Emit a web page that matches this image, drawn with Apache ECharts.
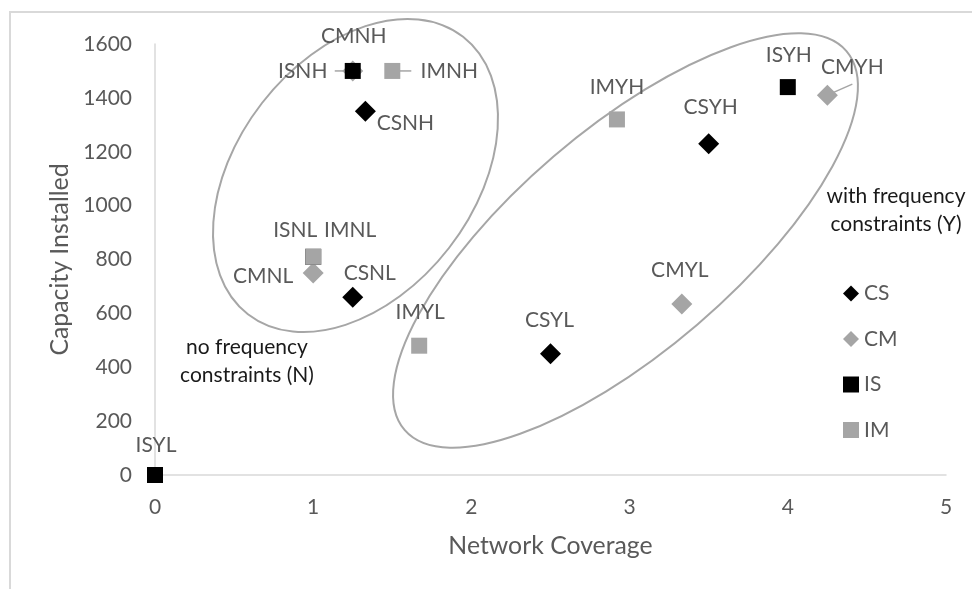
<!DOCTYPE html>
<html>
<head>
<meta charset="utf-8">
<script src="https://cdn.jsdelivr.net/npm/echarts@6/dist/echarts.min.js"></script>
<style>
  html, body { margin: 0; padding: 0; background: #fff; }
  #main { width: 972px; height: 589px; }
</style>
</head>
<body>
<div id="main"></div>
<script>
// point names and values per series
const csNames = ['CSNH', 'CSNL', 'CSYL', 'CSYH'];
const csX = [1.33, 1.25, 2.5, 3.5];
const csY = [1350, 660, 450, 1230];

const cmNames = ['CMNH', 'CMNL', 'CMYL', 'CMYH'];
const cmX = [1.25, 1, 3.33, 4.25];
const cmY = [1500, 750, 635, 1410];

const isNames = ['ISNH', 'ISNL', 'ISYL', 'ISYH'];
const isX = [1.25, 1, 0, 4];
const isY = [1500, 810, 0, 1440];

const imNames = ['IMNH', 'IMNL', 'IMYL', 'IMYH'];
const imX = [1.5, 1, 1.67, 2.92];
const imY = [1500, 810, 480, 1320];

const xTicks = [0, 1, 2, 3, 4, 5];
const yTicks = [0, 200, 400, 600, 800, 1000, 1200, 1400, 1600];

// label centre offsets from the marker, in pixels
const labelOffsets = {
  CSNH: [40, 12], CSNL: [17, -24], CSYL: [-1, -34], CSYH: [2, -36],
  CMNH: [1, -35], CMNL: [-50, 3], CMYL: [-2, -34], CMYH: [25, -28],
  ISNH: [-50, 0], ISNL: [-18, -27], ISYL: [1, -30], ISYH: [1, -32],
  IMNH: [57, 0], IMNL: [37, -27], IMYL: [1, -33], IMYH: [0, -32]
};
// leader line end, relative to the marker centre
const leaders = { ISNH: [-18, 0], IMNH: [19, 0], CMYH: [25, -11] };

const FONT = 'Lato';
const TXT = '#595959';
const GRAY = '#a5a5a5';

function points(names, xs, ys) {
  return names.map(function (n, i) {
    return { name: n, value: [xs[i], ys[i]] };
  });
}

function scatter(name, names, xs, ys, symbol, size, color) {
  return {
    name: name,
    type: 'scatter',
    symbol: symbol,
    symbolSize: size,
    itemStyle: { color: color, opacity: 1 },
    data: points(names, xs, ys),
    label: {
      show: true,
      position: 'inside',
      formatter: '{b}',
      color: TXT,
      fontFamily: FONT,
      fontSize: 21
    },
    emphasis: { disabled: true }
  };
}

// collect the points that carry a leader line
const allNames = csNames.concat(cmNames, isNames, imNames);
const allX = csX.concat(cmX, isX, imX);
const allY = csY.concat(cmY, isY, imY);
const leaderData = [];
allNames.forEach(function (n, i) {
  if (leaders[n]) leaderData.push({ name: n, value: [allX[i], allY[i]] });
});

const chart = echarts.init(document.getElementById('main'));

const series = [
  {
    name: 'leaders',
    type: 'custom',
    silent: true,
    data: leaderData,
    renderItem: function (params, api) {
      const p = api.coord([api.value(0), api.value(1)]);
      const d = leaders[leaderData[params.dataIndex].name];
      return {
        type: 'line',
        shape: { x1: p[0], y1: p[1], x2: p[0] + d[0], y2: p[1] + d[1] },
        style: { stroke: GRAY, lineWidth: 1.5 }
      };
    }
  },
  scatter('CS', csNames, csX, csY, 'diamond', 21, '#000000'),
  scatter('CM', cmNames, cmX, cmY, 'diamond', 21, GRAY),
  scatter('IS', isNames, isX, isY, 'rect', 16, '#000000'),
  scatter('IM', imNames, imX, imY, 'rect', 16, GRAY)
];

const option = {
  animation: false,
  backgroundColor: '#fff',
  grid: { left: 155, right: 26, top: 44, bottom: 114 },
  xAxis: {
    type: 'value',
    min: xTicks[0],
    max: xTicks[xTicks.length - 1],
    interval: 1,
    name: 'Network Coverage',
    nameLocation: 'middle',
    nameGap: 59,
    nameTextStyle: { color: TXT, fontFamily: FONT, fontSize: 24.8 },
    axisLine: { show: true, lineStyle: { color: '#d9d9d9', width: 1.5 } },
    axisTick: { show: false },
    splitLine: { show: false },
    axisLabel: { color: TXT, fontFamily: FONT, fontSize: 21, margin: 22 }
  },
  yAxis: {
    type: 'value',
    min: yTicks[0],
    max: yTicks[yTicks.length - 1],
    interval: 200,
    name: 'Capacity Installed',
    nameLocation: 'middle',
    nameGap: 77,
    nameTextStyle: { color: TXT, fontFamily: FONT, fontSize: 24.8 },
    axisLine: { show: true, lineStyle: { color: '#d9d9d9', width: 1.5 } },
    axisTick: { show: false },
    splitLine: { show: false },
    axisLabel: {
      color: TXT, fontFamily: FONT, fontSize: 21, margin: 23,
      formatter: function (v) { return String(v); }
    }
  },
  legend: {
    orient: 'vertical',
    left: 838,
    top: 278,
    itemWidth: 16,
    itemHeight: 16,
    itemGap: 24.5,
    selectedMode: false,
    textStyle: { color: TXT, fontFamily: FONT, fontSize: 21 },
    data: [
      { name: 'CS', icon: 'diamond' },
      { name: 'CM', icon: 'diamond' },
      { name: 'IS', icon: 'rect' },
      { name: 'IM', icon: 'rect' }
    ]
  },
  labelLayout: function (params) {
    const s = series[params.seriesIndex];
    if (s.type !== 'scatter') return {};
    const nm = s.data[params.dataIndex].name;
    const o = labelOffsets[nm] || [0, 0];
    return {
      x: params.rect.x + params.rect.width / 2 + o[0],
      y: params.rect.y + params.rect.height / 2 + o[1],
      align: 'center',
      verticalAlign: 'middle'
    };
  },
  graphic: [
    {
      type: 'rect',
      shape: { x: 10, y: 12, width: 1000, height: 1000 },
      style: { fill: 'none', stroke: '#d9d9d9', lineWidth: 2 },
      silent: true,
      z: -10
    },
    {
      type: 'ellipse',
      x: 355.5, y: 175.5,
      rotation: 52.2 * Math.PI / 180,
      shape: { cx: 0, cy: 0, rx: 175.5, ry: 118.3 },
      style: { fill: 'none', stroke: '#a6a6a6', lineWidth: 2 },
      silent: true
    },
    {
      type: 'ellipse',
      x: 625.5, y: 240.5,
      rotation: 40.6 * Math.PI / 180,
      shape: { cx: 0, cy: 0, rx: 291, ry: 110.6 },
      style: { fill: 'none', stroke: '#a6a6a6', lineWidth: 2 },
      silent: true
    },
    {
      type: 'text',
      x: 247, y: 361,
      style: {
        text: 'no frequency\nconstraints (N)',
        fill: '#1a1a1a',
        font: '21px Lato',
        lineHeight: 28,
        align: 'center',
        verticalAlign: 'middle'
      }
    },
    {
      type: 'text',
      x: 896, y: 210,
      style: {
        text: 'with frequency\nconstraints (Y)',
        fill: '#1a1a1a',
        font: '21px Lato',
        lineHeight: 28,
        align: 'center',
        verticalAlign: 'middle'
      }
    }
  ],
  series: series
};

chart.setOption(option);
</script>
</body>
</html>
